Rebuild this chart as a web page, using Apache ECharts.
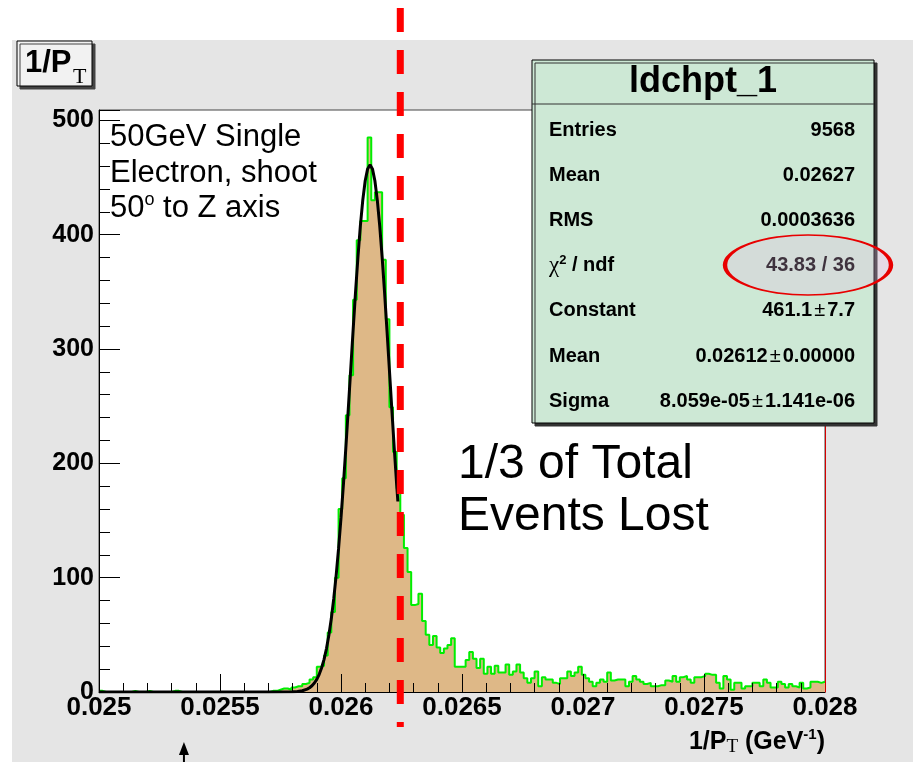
<!DOCTYPE html>
<html>
<head>
<meta charset="utf-8">
<script src="https://cdn.jsdelivr.net/npm/echarts@6/dist/echarts.min.js"></script>
<style>
html,body{margin:0;padding:0;background:#fff;}
#chart{width:916px;height:762px;}
</style>
</head>
<body>
<div id="chart"></div>
<script>
// ---------------- data ----------------
const binLow = 0.025;
const binHigh = 0.028;
const binCounts = [
  1,0,0,0,0,0,0,0,0,1,
  0,0,0,1,0,0,0,0,0,0,
  1,1,0,0,0,0,0,0,0,0,
  0,0,0,0,0,0,0,0,0,0,
  0,0,0,0,0,0,0,1,1,2,
  3,3,2,4,5,5,7,8,11,13,
  22,23,32,52,70,100,160,187,242,277,
  343,395,412,412,485,430,437,437,378,326,
  249,210,178,155,126,105,76,77,86,62,
  50,41,49,39,34,38,41,47,22,22,
  22,28,35,29,21,29,16,22,16,23,
  17,17,24,15,18,24,17,12,8,12,
  18,5,13,11,11,8,7,12,12,18,
  14,17,22,15,12,9,5,8,11,9,
  17,10,11,11,11,5,9,14,11,9,
  7,8,5,5,6,6,10,9,14,9,
  13,14,11,8,13,13,14,16,15,15,
  8,3,14,11,2,8,8,3,5,5,
  8,8,5,11,8,4,4,9,7,4,
  7,5,4,8,3,4,9,9,8,9
];
const fitX = [0.0250,0.0255,0.0257,0.02580,0.02582,0.02584,0.02586,0.02587,0.02588,0.02589,
  0.02590,0.02591,0.02592,0.02593,0.02594,0.02595,0.02596,0.02597,0.02598,0.02599,
  0.02600,0.02601,0.02602,0.02603,0.02604,0.02605,0.02606,0.02607,0.02608,0.02609,
  0.02610,0.02611,0.02612,0.02613,0.02614,0.02615,0.02616,0.02617,0.02618,0.02619,
  0.02620,0.02621,0.02622,0.02623,0.026235];
const fitY = [0,0,0.02,0.17,0.45,1.10,2.54,3.75,5.47,7.85,
  11.1,15.5,21.2,28.6,38.0,49.8,64.2,81.6,102.0,125.6,
  152.2,181.6,213.5,247.2,281.7,316.2,349.5,380.4,407.7,430.2,
  447.1,457.5,461.1,457.5,447.1,430.2,407.7,380.4,349.5,316.2,
  281.7,247.2,213.5,181.6,166.6];
const xTickLabels = ['0.025','0.0255','0.026','0.0265','0.027','0.0275','0.028'];
const yTickLabels = ['0','100','200','300','400','500'];
const statTitle = 'ldchpt_1';
const statLabels = ['Entries','Mean','RMS','CHI2','Constant','Mean','Sigma'];
const statValues = ['9568','0.02627','0.0003636','43.83 / 36','461.1±7.7','0.02612±0.00000','8.059e-05±1.141e-06'];
const noteLines = ['50GeV Single','Electron, shoot','50{sup|o} to Z axis'];
const lostLines = ['1/3 of Total','Events Lost'];
const cutValue = 0.026245;
const arrowValue = 0.025351;

// ---------------- build ----------------
const nBins = binCounts.length;
const bw = (binHigh - binLow) / nBins;
const histData = binCounts.map((c, i) => [binLow + i * bw, c]);
histData.push([binHigh, binCounts[nBins - 1]]);
const fitData = fitX.map((x, i) => [x, fitY[i]]);

const FONT = 'Liberation Sans';
const chart = echarts.init(document.getElementById('chart'), null, {renderer: 'canvas'});

const option = {
  animation: false,
  backgroundColor: '#ffffff',
  textStyle: {fontFamily: FONT},
  grid: {left: 99, right: 91, top: 110, bottom: 70, show: true, backgroundColor: '#ffffff', borderColor: '#444', borderWidth: 1, containLabel: false},
  xAxis: {
    type: 'value', min: binLow, max: binHigh, interval: 0.0005, z: 5,
    axisLine: {show: true, onZero: false, lineStyle: {color: '#000', width: 1}},
    axisTick: {show: true, inside: true, length: 18, lineStyle: {color: '#000', width: 1}},
    minorTick: {show: true, splitNumber: 5, length: 9, lineStyle: {color: '#000', width: 1}},
    splitLine: {show: false},
    axisLabel: {
      color: '#000', fontFamily: FONT, fontWeight: 'bold', fontSize: 26, margin: 3,
      formatter: v => { const i = Math.round((v - binLow) / 0.0005); return xTickLabels[i] || ''; }
    },
    name: '{b|1/P}{s|T}{b| (GeV}{p|-1}{b|)}',
    nameLocation: 'end', nameGap: 0,
    nameTextStyle: {
      align: 'right', verticalAlign: 'top', padding: [35, 0, 0, 0],
      rich: {
        b: {fontFamily: FONT, fontWeight: 'bold', fontSize: 25, lineHeight: 30, color: '#000', verticalAlign: 'middle'},
        s: {fontFamily: 'Liberation Serif', fontSize: 19, lineHeight: 18, color: '#000', verticalAlign: 'bottom'},
        p: {fontFamily: FONT, fontWeight: 'bold', fontSize: 15, lineHeight: 15, color: '#000', verticalAlign: 'top'}
      }
    }
  },
  yAxis: [{
    type: 'value', min: 0, max: 509, interval: 100, z: 5,
    axisLine: {show: true, lineStyle: {color: '#000', width: 1}},
    axisTick: {show: true, inside: true, length: 21, lineStyle: {color: '#000', width: 1}},
    minorTick: {show: true, splitNumber: 5, length: 11, lineStyle: {color: '#000', width: 1}},
    splitLine: {show: false},
    axisLabel: {
      color: '#000', fontFamily: FONT, fontWeight: 'bold', fontSize: 25, margin: 5, showMaxLabel: false,
      formatter: v => { const i = Math.round(v / 100); return (Math.abs(v - i * 100) < 1e-6 && yTickLabels[i]) ? yTickLabels[i] : ''; }
    }
  }, {
    type: 'value', min: 0, max: 509, position: 'right', z: 6,
    axisLine: {show: true, lineStyle: {color: '#d40000', width: 1}},
    axisTick: {show: false}, axisLabel: {show: false}, splitLine: {show: false}
  }],
  series: [{
    type: 'line', name: 'hist', data: histData, step: 'end', symbol: 'none',
    lineStyle: {color: '#00ee00', width: 2},
    areaStyle: {color: '#deb887', opacity: 1, origin: 'start'},
    z: 2, silent: true
  }, {
    type: 'line', name: 'fit', data: fitData, symbol: 'none', smooth: false,
    lineStyle: {color: '#000', width: 3},
    z: 3, silent: true
  }]
};
chart.setOption(option);

// ---------------- overlays ----------------
const g = [];
g.push({type: 'rect', id: 'pad', z: -100, silent: true, shape: {x: 12, y: 40, width: 901, height: 722}, style: {fill: '#e5e5e5'}});
// title box
g.push({type: 'rect', id: 'tbox', z: 10, shape: {x: 17, y: 41, width: 75, height: 45},
  style: {fill: '#f2f2f2', stroke: '#000', lineWidth: 1, shadowColor: '#444', shadowOffsetX: 3, shadowOffsetY: 3, shadowBlur: 0.01}});
g.push({type: 'text', id: 'tt1', z: 11, x: 25, y: 63, style: {text: '1/P', fontFamily: FONT, fontWeight: 'bold', fontSize: 31, fill: '#000', verticalAlign: 'middle'}});
g.push({type: 'text', id: 'tt2', z: 11, x: 73, y: 77, style: {text: 'T', fontFamily: 'Liberation Serif', fontSize: 22, fill: '#000', verticalAlign: 'middle'}});
// stats box
g.push({type: 'rect', id: 'sbox', z: 10, shape: {x: 532, y: 60, width: 342, height: 363},
  style: {fill: '#cde8d5', stroke: '#000', lineWidth: 1, shadowColor: '#333', shadowOffsetX: 3, shadowOffsetY: 3, shadowBlur: 0.01}});
g.push({type: 'line', id: 'ssep', z: 11, shape: {x1: 532, y1: 104, x2: 874, y2: 104}, style: {stroke: '#333', lineWidth: 1}});
g.push({type: 'text', id: 'stitle', z: 11, x: 703, y: 82, style: {text: statTitle, fontFamily: FONT, fontWeight: 'bold', fontSize: 36, fill: '#000', align: 'center', verticalAlign: 'middle'}});
statLabels.forEach((lab, i) => {
  const y = 130 + i * 45.2;
  let labelStyle;
  if (lab === 'CHI2') {
    labelStyle = {text: '{c|χ}{s|2}{b| / ndf}', rich: {
      c: {fontFamily: 'Liberation Serif', fontSize: 23, fill: '#000', lineHeight: 24, verticalAlign: 'bottom'},
      s: {fontFamily: FONT, fontWeight: 'bold', fontSize: 13, fill: '#000', lineHeight: 13, verticalAlign: 'top'},
      b: {fontFamily: FONT, fontWeight: 'bold', fontSize: 20, fill: '#000', lineHeight: 24, verticalAlign: 'middle'}
    }, verticalAlign: 'middle'};
  } else {
    labelStyle = {text: lab, fontFamily: FONT, fontWeight: 'bold', fontSize: 20, fill: '#000', verticalAlign: 'middle'};
  }
  g.push({type: 'text', id: 'sl' + i, z: 11, x: 549, y: y, style: labelStyle});
  const val = statValues[i];
  let valStyle;
  if (val.indexOf('±') >= 0) {
    const parts = val.split('±');
    valStyle = {text: '{b|' + parts[0] + '}{p|±}{b|' + parts[1] + '}', rich: {
      b: {fontFamily: FONT, fontWeight: 'bold', fontSize: 20, fill: '#000'},
      p: {fontFamily: FONT, fontSize: 20, fill: '#000', padding: [0, 2, 0, 2]}
    }, align: 'right', verticalAlign: 'middle'};
  } else {
    valStyle = {text: val, fontFamily: FONT, fontWeight: 'bold', fontSize: 20, fill: '#000', align: 'right', verticalAlign: 'middle'};
  }
  g.push({type: 'text', id: 'sv' + i, z: 11, x: 855, y: y, style: valStyle});
});
// ellipse highlight around chi2
g.push({type: 'circle', id: 'ell', z: 12, x: 808, y: 265, scaleX: 83 / 30, scaleY: 1,
  shape: {cx: 0, cy: 0, r: 30},
  style: {fill: 'rgba(232,190,228,0.27)', stroke: '#e80000', lineWidth: 1.6, strokeNoScale: true}});
// annotation texts
g.push({type: 'text', id: 'note', z: 12, x: 110, y: 119.5, style: {
  text: noteLines.map(l => l.indexOf('{') >= 0 ? l : '{n|' + l + '}').join('\n').replace('50{sup|o} to Z axis', '{n|50}{sup|o}{n| to Z axis}'),
  rich: {
    n: {fontFamily: FONT, fontSize: 31, lineHeight: 35.7, fill: '#000', verticalAlign: 'middle'},
    sup: {fontFamily: FONT, fontSize: 18, lineHeight: 20, fill: '#000', verticalAlign: 'top'}
  }, verticalAlign: 'top'}});
g.push({type: 'text', id: 'lost', z: 12, x: 458, y: 439, style: {
  text: lostLines.join('\n'), fontFamily: FONT, fontSize: 48, lineHeight: 52, fill: '#000', verticalAlign: 'top'}});
// cut line & arrow positioned through the axis scale
const cutX = chart.convertToPixel({xAxisIndex: 0}, cutValue);
const arrX = chart.convertToPixel({xAxisIndex: 0}, arrowValue);
g.push({type: 'line', id: 'cut', z: 20, shape: {x1: cutX, y1: 8, x2: cutX, y2: 727},
  style: {stroke: '#ff0000', lineWidth: 7, lineDash: [24, 18], lineCap: 'butt'}});
g.push({type: 'line', id: 'arrS', z: 20, shape: {x1: arrX, y1: 762, x2: arrX, y2: 750}, style: {stroke: '#000', lineWidth: 2}});
g.push({type: 'polygon', id: 'arrH', z: 20, shape: {points: [[arrX, 742], [arrX - 5, 755], [arrX + 5, 755]]}, style: {fill: '#000'}});
chart.setOption({graphic: g});
</script>
</body>
</html>
